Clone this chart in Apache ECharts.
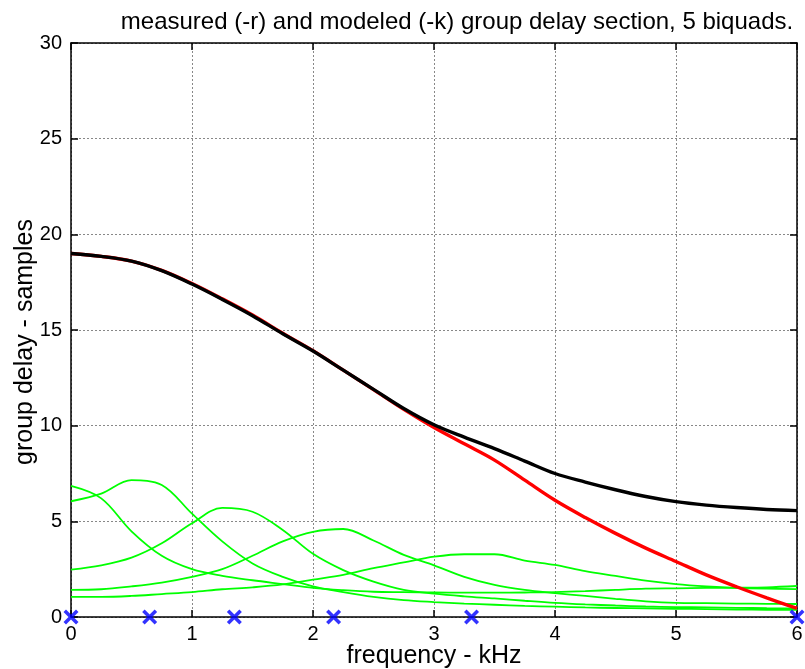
<!DOCTYPE html>
<html>
<head>
<meta charset="utf-8">
<script src="https://cdn.jsdelivr.net/npm/echarts@6/dist/echarts.min.js"></script>
<style>
html,body{margin:0;padding:0;background:#fff;}
#chart{width:805px;height:669px;}
</style>
</head>
<body>
<div id="chart"></div>
<script>
// frequency grid (kHz)
var freq = [0,0.25,0.5,0.75,1,1.25,1.5,1.75,2,2.25,2.5,2.75,3,3.25,3.5,3.75,4,4.25,4.5,4.75,5,5.25,5.5,5.75,6];
// modeled (-k)
var modeled = [19.0,18.85,18.6,18.1,17.4,16.6,15.75,14.8,13.9,12.9,11.9,10.9,10.05,9.4,8.8,8.15,7.5,7.05,6.65,6.3,6.03,5.85,5.72,5.62,5.56];
// measured (-r)
var measured = [19.0,18.85,18.6,18.12,17.43,16.63,15.78,14.83,13.92,12.9,11.88,10.85,9.9,9.05,8.2,7.15,6.1,5.2,4.37,3.6,2.9,2.2,1.58,1.0,0.45];
// biquad sections
var bq1 = [6.85,6.2,4.48,3.2,2.5,2.15,1.92,1.72,1.52,1.4,1.32,1.3,1.28,1.27,1.27,1.28,1.3,1.35,1.42,1.48,1.5,1.52,1.53,1.55,1.62];
var bq2 = [6.05,6.45,7.15,6.9,5.4,3.95,2.8,2.1,1.6,1.3,1.05,0.88,0.78,0.7,0.64,0.58,0.54,0.5,0.47,0.45,0.43,0.41,0.39,0.38,0.37];
var bq3 = [2.48,2.7,3.1,3.85,4.9,5.7,5.5,4.55,3.3,2.45,1.85,1.42,1.22,1.08,0.97,0.85,0.74,0.66,0.6,0.55,0.52,0.5,0.48,0.46,0.45];
var bq4 = [1.42,1.45,1.6,1.8,2.1,2.5,3.2,3.95,4.45,4.6,4.0,3.25,2.7,2.1,1.68,1.42,1.25,1.1,0.95,0.82,0.74,0.72,0.7,0.69,0.68];
var bq5 = [1.05,1.05,1.1,1.2,1.3,1.45,1.55,1.7,1.95,2.2,2.55,2.85,3.15,3.28,3.28,2.95,2.72,2.4,2.15,1.9,1.72,1.6,1.52,1.48,1.46];
// pole frequencies (kHz), marked at zero
var poleFreq = [0,0.65,1.35,2.17,3.31,6];
var poleVal = [0,0,0,0,0,0];
var xTicks = [0,1,2,3,4,5,6];
var yTicks = [0,5,10,15,20,25,30];

function pairs(xs, ys){ return xs.map(function(x,i){ return [x, ys[i]]; }); }

var FONT = 'Liberation Sans, Arial, Helvetica, sans-serif';
var chart = echarts.init(document.getElementById('chart'), null, {renderer:'canvas'});

var axisCommon = {
  axisLine:{show:true, onZero:false, lineStyle:{color:'#000', width:1.5}},
  axisTick:{show:true, inside:true, length:7, lineStyle:{color:'#000', width:1.5}}
};

var greens = [bq1,bq2,bq3,bq4,bq5].map(function(d){
  return {type:'line', data:pairs(freq,d), showSymbol:false, smooth:0.35,
          lineStyle:{color:'#00ff00', width:1.8}, z:2, silent:true};
});

var option = {
  animation:false,
  backgroundColor:'#fff',
  title:{text:'measured (-r) and modeled (-k) group delay section, 5 biquads.',
         left:452, top:5, textAlign:'center',
         textStyle:{fontFamily:FONT, fontSize:24, fontWeight:'normal', color:'#000'}},
  grid:{left:71, right:8, top:43, bottom:52, outerBoundsMode:'none', containLabel:false},
  graphic:[
    {type:'text', x:25, y:342, rotation:Math.PI/2,
     style:{text:'group delay - samples', font:'25px ' + FONT, fill:'#000',
            textAlign:'center', textVerticalAlign:'middle'}},
    {type:'text', x:434, y:656,
     style:{text:'frequency - kHz', font:'25px ' + FONT, fill:'#000',
            textAlign:'center', textVerticalAlign:'middle'}}
  ],
  xAxis:[
    Object.assign({type:'value', min:xTicks[0], max:xTicks[xTicks.length-1], interval:1, position:'bottom',
      axisLabel:{fontFamily:FONT, fontSize:20, color:'#000', margin:7},
      splitLine:{show:true, lineStyle:{color:'#888', type:[2,2], width:1}}}, axisCommon),
    Object.assign({type:'value', min:0, max:6, interval:1, position:'top',
      axisLabel:{show:false}, splitLine:{show:false}}, axisCommon)
  ],
  yAxis:[
    Object.assign({type:'value', min:yTicks[0], max:yTicks[yTicks.length-1], interval:5, position:'left',
      axisLabel:{fontFamily:FONT, fontSize:20, color:'#000', margin:9},
      splitLine:{show:true, lineStyle:{color:'#888', type:[2,2], width:1}}}, axisCommon),
    Object.assign({type:'value', min:0, max:30, interval:5, position:'right',
      axisLabel:{show:false}, splitLine:{show:false}}, axisCommon)
  ],
  series: greens.concat([
    {type:'line', data:pairs(freq,measured), showSymbol:false, smooth:0.35,
     lineStyle:{color:'#ff0000', width:3.4}, z:3},
    {type:'line', data:pairs(freq,modeled), showSymbol:false, smooth:0.35,
     lineStyle:{color:'#000000', width:3.4}, z:4},
    {type:'scatter', data:pairs(poleFreq,poleVal), clip:false,
     symbol:'path://M0,2L2,0L6,4L10,0L12,2L8,6L12,10L10,12L6,8L2,12L0,10L4,6Z',
     symbolSize:15, itemStyle:{color:'#0000ff'}, z:6}
  ])
};
chart.setOption(option);
</script>
</body>
</html>
